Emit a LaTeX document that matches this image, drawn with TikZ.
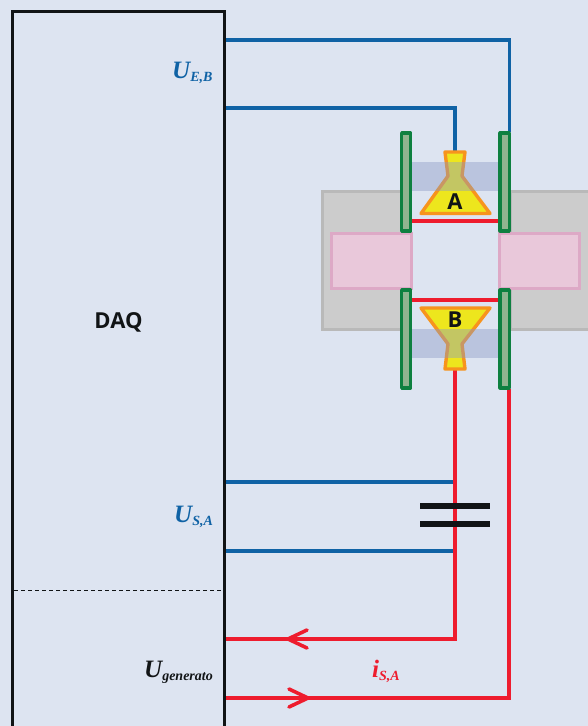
\documentclass[tikz,border=0pt]{standalone}
\usepackage{fontspec}
\setmainfont{Liberation Serif}
\newfontfamily\lblsans{Open Sans}
\usetikzlibrary{calc}
\definecolor{bgc}{HTML}{DDE4F1}
\definecolor{bluew}{HTML}{0F62A5}
\definecolor{redw}{HTML}{EE1C2E}
\definecolor{blk}{HTML}{111416}
\definecolor{grn}{HTML}{0E8040}
\definecolor{grnf}{HTML}{90B48F}
\definecolor{org}{HTML}{F7941D}
\definecolor{yel}{HTML}{EDE61D}
\definecolor{grayf}{HTML}{CCCCCC}
\definecolor{grayd}{HTML}{B9B9B9}
\definecolor{pinkf}{HTML}{E9C8DA}
\definecolor{pinkd}{HTML}{DDA9C6}
\definecolor{band}{HTML}{8A9AC6}
\tikzset{
  x=1pt,y=-1pt,
  bluewire/.style={draw=bluew,line width=3.6pt,line join=miter},
  redwire/.style={draw=redw,line width=3.6pt,line join=miter},
  chevron/.style={draw=redw,line width=3.6pt,line cap=round,line join=miter},
  plate/.style={draw=grn,fill=grnf,line width=3.2pt,line join=round},
  polebox/.style={draw=pinkd,fill=pinkf,line width=3pt},
  cone/.style={draw=org,fill=yel,line width=3.4pt,line join=round},
  bandbox/.style={fill=band,fill opacity=0.42},
  capbar/.style={fill=blk},
  lbl/.style={font=\fontsize{25}{26}\selectfont\bfseries\itshape,inner sep=0pt},
  sanslbl/.style={font=\fontsize{22}{24}\selectfont\lblsans\bfseries,text=blk,inner sep=0pt},
}
\newcommand{\subl}[1]{\raisebox{-3.5pt}{\fontsize{14}{16}\selectfont #1}}
\begin{document}
\begin{tikzpicture}
\useasboundingbox (0,0) rectangle (588,726);
\fill[bgc] (0,0) rectangle (588,726);
% yoke
\begin{scope}
\clip (0,0) rectangle (588,726);
\draw[draw=grayd,fill=grayf,line width=3pt] (322.5,191) -- (401,191) -- (401,329) -- (322.5,329) -- cycle;
\draw[draw=grayd,fill=grayf,line width=3pt] (600,191) -- (510,191) -- (510,329) -- (600,329) -- cycle;
\end{scope}
\draw[polebox] (331.5,233) rectangle (411,288);
\draw[polebox] (499,233) rectangle (579.5,288);
% coordinates
\coordinate (daqtop) at (225,40);
\coordinate (daqub) at (225,108);
\coordinate (conetipA) at (455,152);
\coordinate (plateRtop) at (509.5,132);
\coordinate (conetipB) at (455,369);
\coordinate (plateRbot) at (509,389);
\coordinate (capa) at (455,482);
\coordinate (capb) at (455,551);
\coordinate (daqsa) at (225,482);
\coordinate (daqsb) at (225,551);
\coordinate (daqgi) at (225,639);
\coordinate (daqgo) at (225,698);
% wires
\draw[bluewire] (daqtop) -| (plateRtop);
\draw[bluewire] (daqub) -| (conetipA);
\draw[bluewire] (daqsa) -- (capa);
\draw[bluewire] (daqsb) -- (capb);
\draw[redwire] (conetipB) |- (daqgi);
\draw[redwire] (plateRbot) |- (daqgo);
% sensors
\draw[cone] (445,152) -- (465,152) -- (462,176) -- (490,213.5) -- (421,213.5) -- (448,176) -- cycle;
\draw[cone] (445,369) -- (465,369) -- (462,344) -- (490,308) -- (421,308) -- (448,344) -- cycle;
\fill[bandbox] (412,162) rectangle (498,191);
\fill[bandbox] (412,329) rectangle (498,358);
\draw[redwire] (412,221) -- (498,221);
\draw[redwire] (412,300) -- (498,300);
\draw[plate] (401.6,133) rectangle (410.6,231);
\draw[plate] (500,133) rectangle (509.4,231);
\draw[plate] (401.6,290) rectangle (410.6,388);
\draw[plate] (500,290) rectangle (509.4,388);
\node[sanslbl] (labA) at (455,202) {A};
\node[sanslbl] (labB) at (455,320) {B};
% capacitor
\fill[capbar] (420,503) rectangle (490,509);
\fill[capbar] (420,521) rectangle (490,527);
% arrowheads
\coordinate (tipi) at (288,639);
\coordinate (tipo) at (308,698);
\draw[chevron] ($(tipi)+(19,-9)$) -- (tipi) -- ($(tipi)+(19,9)$);
\draw[chevron] ($(tipo)+(-19,-9)$) -- (tipo) -- ($(tipo)+(-19,9)$);
% DAQ box
\draw[blk,line width=3.8pt] (12.5,740) -- (12.5,11.5) -- (224.5,11.5) -- (224.5,740);
\draw[blk,line width=1pt,dash pattern=on 4pt off 3pt] (14,590) -- (223,590);
\node[sanslbl] (daq) at (118.5,322) {DAQ};
% labels
\node[lbl,text=bluew,anchor=base west] (ueb) at (172,78) {U\subl{E,B}};
\node[lbl,text=bluew,anchor=base west] (usa) at (174,522) {U\subl{S,A}};
\node[lbl,text=blk,anchor=base west] (ug) at (144,677) {U\subl{generato}};
\node[lbl,text=redw,anchor=base west] (isa) at (372,677) {i\subl{S,A}};
\end{tikzpicture}
\end{document}
